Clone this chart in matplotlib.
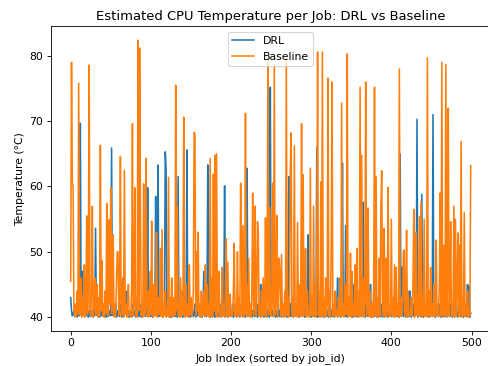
import matplotlib
matplotlib.use("Agg")
import matplotlib.pyplot as plt
import numpy as np

# estimated temps, 500 jobs each
drl_temp = [
    43, 41, 40.2, 40.5, 41, 40.1, 40.3, 42, 40, 40.4, 41, 40.2, 69.7, 41, 47, 47, 40.3, 41, 40.1, 40.5, 42, 40.2, 40, 41, 40.3,
    40.1, 41, 40.4, 40, 42, 40.2, 53.6, 40.3, 41, 40.1, 40.5, 40, 41, 40.2, 40.4, 42, 40.1, 40.3, 41, 40, 40.2, 42, 40.1, 40.4, 41,
    40.2, 65.9, 40.3, 41, 40.1, 40.5, 42, 40, 40.2, 41, 40.3, 40.1, 42, 40.4, 40, 41, 40.2, 40.3, 42, 44, 40.1, 41, 40.3, 40, 40.5,
    41, 40.2, 40.1, 42, 40.3, 41, 40, 40.2, 41, 40.4, 40.1, 42, 40.3, 40, 41, 40.2, 40.5, 41, 40.1, 40.3, 42, 59.8, 40.2, 41, 40.1,
    40.3, 41, 40, 42, 40.2, 41, 58.5, 40.3, 41, 63.3, 40.1, 42, 40.2, 40.4, 41, 40, 40.3, 42, 65.3, 62.5, 40.2, 41, 40.1, 40.3, 42,
    40, 41, 40.2, 40.4, 42, 40.1, 41, 40.3, 40, 61.5, 40.2, 41, 40.1, 42, 40.3, 40, 41, 40.2, 40.4, 42, 65.6, 40.1, 41, 40.3, 40,
    42, 40.2, 41, 40.1, 40.3, 42, 40, 41, 40.2, 40.4, 41, 40.1, 42, 40.3, 40, 41, 47, 40.2, 41, 40.1, 42, 63.3, 40.3, 41, 40,
    40.2, 42, 40.1, 41, 40.3, 40, 42, 40.2, 41, 40.4, 40.1, 42, 40.3, 40, 41, 40.2, 42, 60.1, 40.1, 41, 40.3, 40, 42, 40.2, 41,
    40.1, 40.3, 42, 40, 41, 40.2, 40.4, 42, 40.1, 41, 40.3, 40, 42, 40.2, 41, 40.1, 40.3, 42, 40, 41, 62.8, 40.2, 41, 40.1, 42,
    40.3, 40, 41, 40.2, 42, 40.1, 41, 40.3, 40, 42, 40.2, 41, 45, 40.1, 42, 40.3, 40, 41, 40.2, 42, 40.1, 41, 40.3, 40, 75.2,
    42, 40.2, 41, 40.1, 42, 40.3, 40, 41, 40.2, 42, 40.1, 41, 40.3, 40, 42, 40.2, 41, 40.1, 40.3, 42, 40, 41, 61.5, 40.2, 42,
    40.1, 41, 40.3, 40, 42, 40.2, 41, 40.1, 40.3, 42, 40, 41, 40.2, 42, 40.1, 41, 40.3, 40, 42, 40.2, 41, 52.6, 40.1, 42, 40.3,
    40, 41, 40.2, 42, 40.1, 41, 40.3, 66, 40, 42, 40.2, 41, 40.1, 40.3, 42, 40, 41, 40.2, 42, 40.1, 41, 40.3, 40, 42, 40.2,
    41, 40.1, 42, 40.3, 40, 41, 40.2, 42, 46, 40.1, 41, 40.3, 40, 42, 63.6, 40.2, 41, 40.1, 54, 40.3, 40, 42, 40.2, 41, 40.1,
    40.3, 42, 40, 45, 40.2, 41, 40.1, 42, 40.3, 40, 41, 40.2, 42, 40.1, 41, 57.6, 40.3, 40, 42, 40.2, 41, 40.1, 42, 40.3, 45,
    40, 41, 40.2, 42, 40.1, 41, 40.3, 40, 42, 40.2, 41, 40.1, 42, 40.3, 40, 41, 40.2, 42, 40.1, 41, 40.3, 40, 42, 40.2, 41,
    40.1, 42, 40.3, 40, 41, 40.2, 42, 40.1, 41, 40.3, 40, 65, 40.2, 41, 47.7, 40.1, 42, 40.3, 40, 41, 40.2, 42, 40.1, 44, 40.3,
    40, 41, 40.2, 42, 40.1, 41, 40.3, 70.3, 40, 42, 40.2, 41, 40.1, 58.8, 40.3, 40, 42, 40.2, 41, 40.1, 42, 40.3, 40, 41, 40.2,
    42, 40.1, 71, 40.3, 41, 40, 42, 40.2, 41, 40.1, 42, 40.3, 40, 41, 40.2, 42, 40.1, 41, 40.3, 40, 42, 40.2, 41, 40.1, 42,
    40.3, 40, 41, 40.2, 42, 40.1, 41, 40.3, 40, 42, 40.2, 41, 40.1, 42, 40.3, 40, 41, 40.2, 42, 40.1, 45, 40.3, 44.8, 40, 40.6,
]

baseline_temp = [
    45.5, 79, 60.5, 60, 41, 40.2, 42, 40, 44, 40.5, 75.8, 41, 40.3, 46, 40, 43, 40.2, 48, 40, 42, 55.5, 40.4, 45, 78.6, 41,
    40.2, 44, 57, 40, 42, 46, 40.3, 41, 45, 40, 43, 40.2, 66.3, 41, 48.7, 40.1, 42, 40, 44, 40.5, 57.4, 41, 40.2, 54.9, 42,
    59.8, 40.5, 44, 52.6, 40.1, 42, 40, 45, 50, 50, 40.3, 43, 64.6, 40.2, 41, 46, 40, 62.5, 40.4, 42, 40, 43, 45, 40.2, 41,
    40, 44, 69.6, 40.3, 42, 59.8, 40.1, 43, 40, 82.4, 41, 81.2, 57, 40.2, 42, 40, 60.4, 41, 40.3, 64.3, 42, 40, 44, 40.2, 47,
    40.3, 54.7, 41, 40, 45, 40.2, 42, 53, 40, 43, 40.4, 41, 50.5, 40.1, 53.4, 40, 42, 40.3, 44, 40, 41, 40.2, 61.4, 40, 43,
    40.2, 46, 40, 41, 43, 40.3, 75.5, 41, 57, 40.2, 42, 40, 46, 40.1, 44, 40.3, 70.6, 41, 40, 45, 40.2, 42, 40, 48, 40.4,
    43, 40.1, 41, 44, 68.3, 68, 40.2, 50, 41, 53, 40.3, 42, 40, 44, 40.2, 41, 44, 40.1, 48, 40.3, 45, 40.2, 42, 40, 64.3,
    40.2, 46, 40, 61.9, 41, 64.8, 40.3, 65, 40, 43, 47, 40.2, 41, 40, 47.6, 40.3, 42, 40, 44, 52, 40.1, 48.4, 40.2, 42, 43.5,
    40.1, 41, 40.3, 44, 51.3, 40.2, 42, 40, 50, 40.4, 43, 40.1, 60.5, 52, 40.2, 54, 40, 42, 71.2, 40.3, 45, 40.1, 49, 40.2, 42,
    40, 44, 59, 40.3, 42, 57, 40.1, 41, 54.6, 53, 40.2, 42, 40, 44, 40.3, 46, 40.2, 41, 55.2, 40, 43, 79.6, 40.3, 56.8, 41,
    40.2, 44, 60.5, 40.1, 78.7, 40.4, 42, 55.6, 40, 43, 49, 46.7, 40.2, 49.6, 40.1, 42, 40, 44, 40.3, 79.5, 40.2, 43, 40, 45, 62.9,
    68.2, 40.2, 43, 40, 66.2, 40.3, 42, 40.1, 54.5, 40, 45, 40.2, 43, 69.6, 40.1, 61.8, 40.3, 42, 50.5, 40, 44, 40.2, 41, 40, 62.8,
    40.3, 43, 40.1, 57, 40.2, 45, 40, 48, 80.6, 40.3, 44, 40, 60.7, 40.2, 80.6, 40.1, 43, 40, 46, 40.3, 42, 76.6, 40.2, 44, 40,
    51.6, 76, 40.3, 42, 40.1, 44, 40.2, 41, 40, 43, 40.3, 46, 40.1, 72.8, 40.2, 42, 40, 45, 40.4, 41, 80.3, 40.1, 43, 40.2, 49.8,
    40, 47, 40.2, 42, 40.1, 48, 40.3, 50.5, 40, 44, 40.2, 75.2, 40.1, 64.8, 40.3, 46, 40, 43, 76, 40.2, 42, 56.7, 40.1, 44, 40,
    40.3, 42, 40, 45, 75.2, 40.2, 61.5, 40.1, 43, 40, 49, 40.3, 57, 62.4, 40.2, 42, 53.6, 40, 49, 40.2, 43, 59.9, 40.1, 42, 40.3,
    55, 40.2, 43, 40, 48, 40.1, 47.6, 40.3, 42, 40, 78, 40.2, 43, 40.1, 41, 50, 50.3, 40.2, 42, 53.3, 40, 44, 40.3, 41, 40.1,
    43, 40.2, 45, 56.5, 40, 42, 53, 40.3, 44, 40.1, 55.4, 40.2, 57.7, 40, 43, 40.3, 55, 40.1, 42, 40.2, 79.7, 40, 44, 40.3, 47.6,
    40.1, 42, 40.2, 45, 40, 43, 51.8, 40.3, 42, 40.1, 46, 59, 40.2, 79, 40, 44, 51, 40.3, 78.7, 40.1, 45, 72, 40.2, 43, 54.6,
    40.1, 42, 40.3, 57, 40, 55, 40.2, 44, 52.9, 40.1, 51, 40.3, 66.9, 40, 43, 40.2, 56, 40.1, 42, 40.3, 44, 40, 41, 40.2, 63.2,
]

jobs = np.arange(len(drl_temp))

plt.rcParams['font.size'] = 10.3

W, H = 488, 366
fig = plt.figure(figsize=(6.4, 4.8), dpi=76.25)
ax = fig.add_axes([50.7 / W, (H - 331) / H, (490.7 - 50.7) / W, (331 - 26.3) / H])
ax.plot(jobs, drl_temp, label='DRL')
ax.plot(jobs, baseline_temp, label='Baseline')
ax.set_xlabel('Job Index (sorted by job_id)')
ax.set_ylabel('Temperature (°C)')
ax.set_title('Estimated CPU Temperature per Job: DRL vs Baseline', fontsize=12.4)
ax.legend(loc='upper center')
fig.savefig('out.png')
